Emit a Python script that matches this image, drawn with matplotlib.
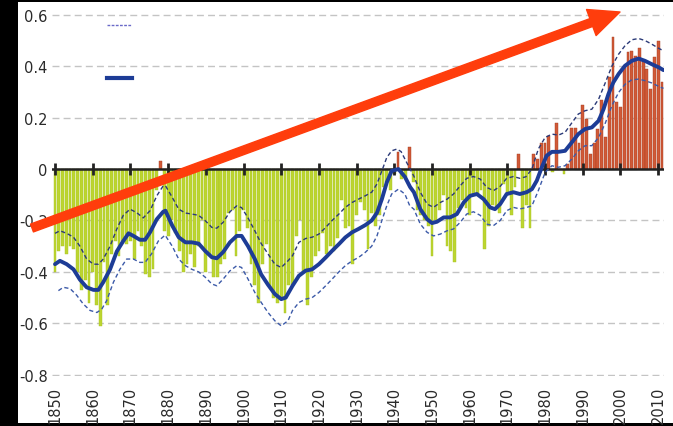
import numpy as np
import matplotlib
matplotlib.use("Agg")
import matplotlib.pyplot as plt
from matplotlib.lines import Line2D
from matplotlib.patches import Rectangle

# annual global temperature anomalies (deg C), one bar per year
years = np.arange(1850, 2012)
anom = [
    -0.40, -0.32, -0.30, -0.33, -0.30, -0.31, -0.40, -0.47, -0.43, -0.52,   # 1850s
    -0.40, -0.53, -0.61, -0.36, -0.53, -0.33, -0.28, -0.34, -0.28, -0.29,   # 1860s
    -0.28, -0.35, -0.24, -0.30, -0.41, -0.42, -0.39, -0.08, 0.03, -0.24,    # 1870s
    -0.26, -0.20, -0.25, -0.32, -0.40, -0.37, -0.33, -0.38, -0.30, -0.20,   # 1880s
    -0.40, -0.33, -0.42, -0.42, -0.37, -0.35, -0.17, -0.16, -0.34, -0.24,   # 1890s
    -0.16, -0.23, -0.37, -0.45, -0.52, -0.37, -0.29, -0.46, -0.50, -0.52,   # 1900s
    -0.50, -0.56, -0.45, -0.45, -0.26, -0.20, -0.40, -0.53, -0.42, -0.34,   # 1910s
    -0.32, -0.25, -0.33, -0.30, -0.32, -0.27, -0.12, -0.23, -0.22, -0.37,   # 1920s
    -0.18, -0.13, -0.16, -0.31, -0.17, -0.22, -0.18, -0.07, -0.05, -0.08,   # 1930s
    -0.02, 0.066, -0.04, -0.03, 0.087, -0.05, -0.16, -0.18, -0.20, -0.22,   # 1940s
    -0.34, -0.20, -0.16, -0.10, -0.30, -0.32, -0.36, -0.15, -0.12, -0.15,   # 1950s
    -0.18, -0.10, -0.10, -0.08, -0.31, -0.22, -0.14, -0.15, -0.17, -0.06,   # 1960s
    -0.10, -0.18, -0.07, 0.06, -0.23, -0.14, -0.23, 0.06, 0.04, 0.10,       # 1970s
    0.10, 0.13, -0.01, 0.18, 0.00, -0.02, 0.02, 0.16, 0.16, 0.10,           # 1980s
    0.25, 0.195, 0.06, 0.10, 0.156, 0.27, 0.123, 0.36, 0.515, 0.26,         # 1990s
    0.24, 0.40, 0.455, 0.46, 0.44, 0.47, 0.42, 0.39, 0.31, 0.435,           # 2000s
    0.50, 0.34,                                                             # 2010s
]

# smoothed curve
mean_yr = [1850.0, 1851.3, 1853.1, 1854.9, 1856.6, 1858.4, 1860.2, 1861.5, 1862.8, 1864.6,
           1866.4, 1868.1, 1869.5, 1870.8, 1872.5, 1873.9, 1875.2, 1877.0, 1878.7, 1879.3,
           1881.1, 1882.8, 1884.6, 1886.3, 1888.1, 1889.8, 1891.6, 1892.9, 1894.6, 1896.4,
           1898.2, 1899.5, 1901.2, 1903.0, 1904.7, 1906.5, 1908.3, 1910.0, 1911.2, 1913.0,
           1914.7, 1916.5, 1918.2, 1920.0, 1921.8, 1923.5, 1925.3, 1927.0, 1928.8, 1930.5,
           1932.3, 1934.0, 1935.4, 1936.7, 1938.0, 1939.3, 1941.1, 1942.8, 1944.2, 1945.2,
           1946.9, 1948.7, 1950.0, 1951.3, 1953.1, 1954.8, 1956.6, 1958.4, 1960.1, 1961.9,
           1963.7, 1965.4, 1966.7, 1968.1, 1969.8, 1971.6, 1973.3, 1975.1, 1976.5, 1977.8,
           1979.1, 1980.4, 1981.8, 1983.5, 1985.3, 1987.1, 1988.8, 1990.6, 1992.4, 1994.2,
           1995.5, 1996.8, 1998.1, 1999.5, 2001.2, 2003.0, 2004.8, 2006.5, 2008.3, 2010.1,
           2011.4]
mean_val = [-0.370, -0.357, -0.370, -0.390, -0.430, -0.460, -0.470, -0.470, -0.440, -0.390,
            -0.320, -0.280, -0.250, -0.260, -0.275, -0.275, -0.246, -0.195, -0.166, -0.162,
            -0.220, -0.265, -0.285, -0.285, -0.290, -0.318, -0.343, -0.347, -0.323, -0.285,
            -0.260, -0.260, -0.300, -0.350, -0.410, -0.450, -0.486, -0.506, -0.500, -0.454,
            -0.415, -0.395, -0.390, -0.370, -0.344, -0.318, -0.292, -0.266, -0.246, -0.233,
            -0.218, -0.200, -0.170, -0.117, -0.052, -0.007, 0.000, -0.030, -0.070, -0.090,
            -0.156, -0.195, -0.210, -0.205, -0.188, -0.188, -0.175, -0.130, -0.104, -0.097,
            -0.117, -0.149, -0.156, -0.136, -0.097, -0.090, -0.097, -0.090, -0.078, -0.045,
            0.006, 0.052, 0.067, 0.067, 0.071, 0.104, 0.136, 0.156, 0.162, 0.188,
            0.233, 0.292, 0.337, 0.370, 0.402, 0.421, 0.430, 0.421, 0.408, 0.396,
            0.385]

# upper uncertainty bound
upper_yr = [1850.0, 1851.3, 1853.1, 1854.9, 1856.6, 1858.4, 1860.2, 1861.5, 1862.8, 1864.6,
            1866.4, 1868.1, 1869.9, 1871.7, 1873.4, 1875.2, 1877.0, 1878.7, 1879.3, 1881.1,
            1882.8, 1884.6, 1886.3, 1888.1, 1889.8, 1891.6, 1892.9, 1894.6, 1896.4, 1898.2,
            1899.5, 1901.2, 1903.0, 1904.7, 1906.5, 1908.3, 1910.0, 1911.8, 1913.0, 1914.7,
            1916.5, 1918.2, 1920.0, 1921.8, 1923.5, 1925.3, 1927.0, 1928.8, 1930.5, 1932.3,
            1934.0, 1935.4, 1936.7, 1938.0, 1939.3, 1940.7, 1941.8, 1943.3, 1945.2, 1946.9,
            1948.7, 1950.4, 1952.2, 1954.0, 1955.7, 1957.5, 1959.2, 1961.0, 1962.8, 1964.5,
            1966.3, 1968.1, 1969.8, 1971.6, 1973.3, 1974.9, 1976.5, 1978.2, 1980.0, 1981.8,
            1983.5, 1985.3, 1987.1, 1988.8, 1990.6, 1992.4, 1994.2, 1996.0, 1997.7, 1999.5,
            2001.2, 2003.0, 2004.8, 2006.5, 2008.3, 2010.1, 2011.4]
upper_val = [-0.250, -0.240, -0.250, -0.265, -0.300, -0.350, -0.370, -0.370, -0.350, -0.300,
             -0.233, -0.180, -0.156, -0.170, -0.190, -0.162, -0.104, -0.065, -0.065, -0.110,
             -0.156, -0.171, -0.175, -0.180, -0.200, -0.227, -0.230, -0.207, -0.166, -0.143,
             -0.150, -0.190, -0.240, -0.290, -0.330, -0.370, -0.383, -0.357, -0.337, -0.285,
             -0.270, -0.265, -0.253, -0.227, -0.200, -0.175, -0.149, -0.130, -0.117, -0.104,
             -0.090, -0.058, -0.007, 0.045, 0.071, 0.078, 0.068, 0.025, -0.028, -0.090,
             -0.136, -0.149, -0.130, -0.117, -0.097, -0.065, -0.036, -0.029, -0.039, -0.071,
             -0.084, -0.067, -0.036, -0.029, -0.036, -0.030, 0.000, 0.078, 0.123, 0.136,
             0.132, 0.143, 0.180, 0.214, 0.227, 0.233, 0.272, 0.337, 0.400, 0.447,
             0.480, 0.503, 0.508, 0.500, 0.486, 0.470, 0.460]

# lower uncertainty bound
lower_yr = [1850.9, 1852.2, 1854.0, 1855.7, 1857.5, 1859.3, 1861.1, 1862.4, 1863.7, 1865.5,
            1867.2, 1869.0, 1870.8, 1872.5, 1873.9, 1875.6, 1877.4, 1879.2, 1881.1, 1882.8,
            1884.6, 1886.3, 1888.1, 1889.8, 1891.6, 1892.9, 1894.6, 1896.4, 1898.2, 1899.5,
            1901.2, 1903.0, 1904.7, 1906.5, 1908.3, 1910.0, 1911.8, 1913.0, 1914.7, 1916.5,
            1918.2, 1920.0, 1921.8, 1923.5, 1925.3, 1927.0, 1928.8, 1930.5, 1932.3, 1934.0,
            1935.4, 1936.7, 1938.0, 1939.3, 1941.1, 1942.8, 1944.1, 1945.2, 1946.9, 1948.7,
            1950.4, 1952.2, 1954.0, 1955.7, 1957.5, 1959.2, 1961.0, 1962.8, 1964.5, 1966.3,
            1968.1, 1969.8, 1971.6, 1973.3, 1974.9, 1976.5, 1978.2, 1980.0, 1981.8, 1983.5,
            1985.3, 1987.1, 1988.8, 1990.6, 1992.4, 1994.2, 1996.0, 1997.7, 1999.5, 2001.2,
            2003.0, 2004.8, 2006.5, 2008.3, 2010.1, 2011.4]
lower_val = [-0.473, -0.460, -0.465, -0.490, -0.525, -0.550, -0.558, -0.545, -0.512, -0.440,
             -0.390, -0.350, -0.350, -0.363, -0.363, -0.330, -0.280, -0.257, -0.300, -0.350,
             -0.376, -0.390, -0.400, -0.420, -0.447, -0.454, -0.428, -0.396, -0.376, -0.383,
             -0.428, -0.480, -0.519, -0.558, -0.590, -0.610, -0.590, -0.550, -0.519, -0.506,
             -0.500, -0.480, -0.454, -0.428, -0.400, -0.376, -0.357, -0.344, -0.324, -0.300,
             -0.260, -0.200, -0.143, -0.097, -0.078, -0.097, -0.143, -0.156, -0.214, -0.246,
             -0.260, -0.253, -0.240, -0.233, -0.207, -0.175, -0.166, -0.180, -0.214, -0.220,
             -0.200, -0.162, -0.149, -0.155, -0.150, -0.143, -0.084, -0.013, 0.013, 0.007,
             0.013, 0.039, 0.071, 0.091, 0.091, 0.123, 0.180, 0.246, 0.298, 0.330,
             0.347, 0.350, 0.344, 0.335, 0.322, 0.314]

yticks = [0.6, 0.4, 0.2, 0, -0.2, -0.4, -0.6, -0.8]
ytick_labels = ["0.6", "0.4", "0.2", "0", "-0.2", "-0.4", "-0.6", "-0.8"]
decades = list(range(1850, 2011, 10))

W, H = 673, 427
fig = plt.figure(figsize=(W / 100, H / 100), dpi=100, facecolor="black")
# white panel inside the black frame
fig.add_artist(Rectangle((18 / W, 3 / H), (W - 18) / W, 421 / H,
                         transform=fig.transFigure, facecolor="white",
                         edgecolor="none", zorder=0))

ax = fig.add_axes([52 / W, (H - 377) / H, 612 / W, 366.3 / H])
ax.set_facecolor("white")

anom = np.array(anom)
cols = np.where(anom >= 0, "#d05a38", "#bcd530")
edges = np.where(anom >= 0, "#a63c1e", "#a9c224")
ax.bar(years, anom, width=0.74, color=cols, edgecolor=edges, linewidth=0.3, zorder=2)

ax.axhline(0, color="#222222", lw=1.8, zorder=3)
ax.plot(decades, np.zeros(len(decades)), ls="none", marker="|", ms=9, mew=2,
        color="#222222", zorder=3)

ax.plot(upper_yr, upper_val, color="#2b3a78", lw=1.0, ls=(0, (3, 2)), zorder=4)
ax.plot(lower_yr, lower_val, color="#3c5aa8", lw=1.0, ls=(0, (3, 2)), zorder=4)
ax.plot(mean_yr, mean_val, color="#1d3c96", lw=2.8, solid_capstyle="round", zorder=5)

ax.set_xlim(1849.2, 2011.54)
ax.set_ylim(-0.805, 0.62)
ax.set_yticks(yticks)
ax.set_yticklabels(ytick_labels)
ax.set_xticks(decades)
ax.set_xticklabels([str(d) for d in decades], rotation=90)
ax.tick_params(axis="both", length=0, labelsize=10.5, labelcolor="#2a2a2a")
ax.tick_params(axis="x", pad=7)
ax.tick_params(axis="y", pad=3)
ax.yaxis.grid(True, color="#c4c4c4", lw=1.0, ls=(0, (5, 3)))
ax.set_axisbelow(True)
for s in ax.spines.values():
    s.set_visible(False)

# legend keys (no text)
keys = [Line2D([], [], color="#6a6ac8", lw=1.0, ls=(0, (2, 1))),
        Line2D([], [], color="#1d3c96", lw=3.0)]
ax.legend(keys, [" ", " "], loc="upper left", bbox_to_anchor=(0.08, 0.993),
          frameon=False, fontsize=10.5, handlelength=1.75, labelspacing=2.6,
          borderaxespad=0)

# trend arrow
ax.annotate("", xy=(620, H - 13), xytext=(32, H - 229),
            xycoords="figure pixels", textcoords="figure pixels",
            arrowprops=dict(arrowstyle="simple,head_length=1.1,head_width=1.0,tail_width=0.3",
                            color="#ff3d0c", mutation_scale=20, shrinkA=0, shrinkB=0),
            annotation_clip=False, zorder=10)

fig.savefig("out.png", dpi=100, facecolor=fig.get_facecolor())
